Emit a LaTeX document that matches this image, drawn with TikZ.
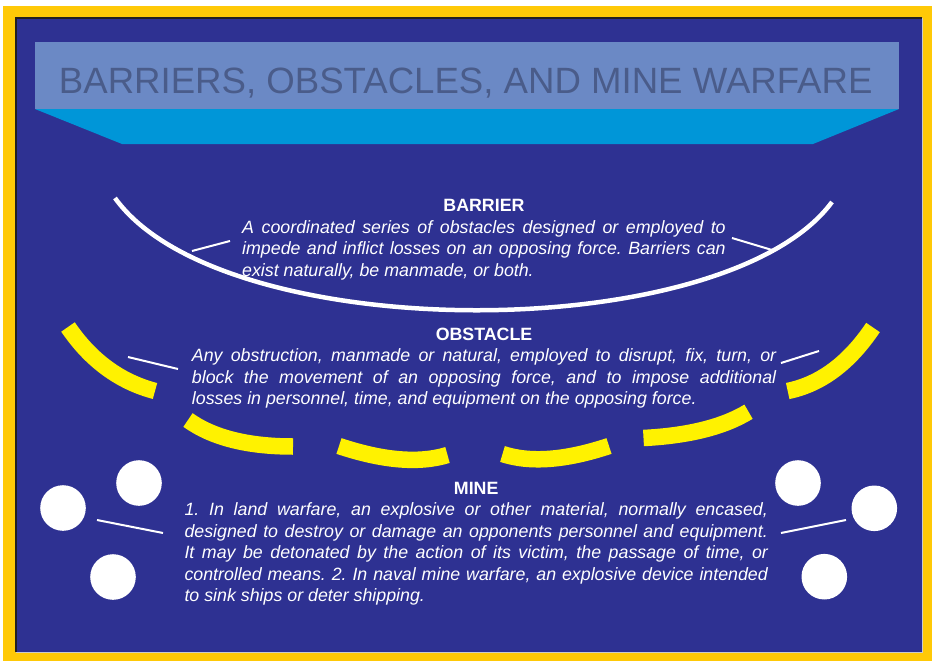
\documentclass[tikz,border=0pt]{standalone}
\usepackage{fontspec}
\setmainfont{Liberation Sans}
\usepackage{tikz}

\definecolor{frameyellow}{HTML}{FFC907}
\definecolor{panelblue}{HTML}{2E3192}
\definecolor{paneledge}{HTML}{231F20}
\definecolor{bandblue}{HTML}{6B89C5}
\definecolor{bandcyan}{HTML}{0096D8}
\definecolor{titlegray}{HTML}{4A5C8A}
\definecolor{dashyellow}{HTML}{FFF200}

\setlength{\parindent}{0pt}
\frenchspacing
\hyphenpenalty=10000
\exhyphenpenalty=10000

\begin{document}
\begin{tikzpicture}[x=1pt,y=-1pt,
  defn/.style={anchor=north west, inner sep=0pt, text=white, align=justify,
    font=\fontsize{17.8}{21.5}\selectfont\itshape\frenchspacing},
  pointer/.style={white, line width=2pt},
  minedot/.style={circle, fill=white, inner sep=0pt, minimum size=45.6pt},
  barrierline/.style={white, line width=4.5pt},
  obstacleline/.style={dashyellow, line width=16.5pt}]
\useasboundingbox (0,0) rectangle (932,661);

% frame and panel
\fill[frameyellow] (3,6) rectangle (932,661);
\fill[panelblue] (15,17) rectangle (922,652);
\draw[paneledge, line width=2.5pt] (16,652) -- (16,18) -- (922,18);
\draw[gray!40, line width=1pt] (922,18) -- (922,652) -- (16,652);

% title band
\fill[bandblue] (35,42) rectangle (899,109);
\fill[bandcyan] (35,109) -- (899,109) -- (813,144) -- (122,144) -- cycle;
\node[font=\fontsize{36.6}{40}\selectfont, text=titlegray, anchor=base, inner sep=0pt]
  (title) at (465.7,93) {BARRIERS, OBSTACLES, AND MINE WARFARE};

% barrier
\draw[barrierline] (115,198) .. controls (222,347) and (725,347) .. (832,202);
\node[defn, text width=483.5pt] (barrier) at (242,196.6)
  {{\centering\upshape\bfseries\strut BARRIER\par}
   A coordinated series of obstacles designed or employed to\linebreak
   impede and inflict losses on an opposing force. Barriers can\linebreak
   exist naturally, be manmade, or both.};

% obstacle
\draw[obstacleline] (68,327) .. controls (90.7,360.3) and (119.7,381.7) .. (155,391);
\draw[obstacleline] (188,420) .. controls (212.7,437.7) and (247.7,446.5) .. (293,446.5);
\draw[obstacleline] (339,446) .. controls (383,460.7) and (419.2,463.7) .. (447.5,455);
\draw[obstacleline] (502.5,454) .. controls (530.2,463.1) and (565.7,460.4) .. (609,446);
\draw[obstacleline] (643.5,438) .. controls (688.5,435.7) and (723.5,427) .. (748.5,411.7);
\draw[obstacleline] (787.7,391) .. controls (820.6,384.3) and (849,363.2) .. (873,327.5);
\node[defn, text width=584.3pt] (obstacle) at (191.7,324.95)
  {{\centering\upshape\bfseries\strut OBSTACLE\par}
   Any obstruction, manmade or natural, employed to disrupt, fix, turn, or\linebreak
   block the movement of an opposing force, and to impose additional\linebreak
   losses in personnel, time, and equipment on the opposing force.};

% mine
\node[minedot] (mineA) at (139,483) {};
\node[minedot] (mineB) at (63,508) {};
\node[minedot] (mineC) at (113,577) {};
\node[minedot] (mineD) at (798,483) {};
\node[minedot] (mineE) at (874.3,508.3) {};
\node[minedot] (mineF) at (824.3,576.7) {};
\node[defn, text width=583.4pt] (mine) at (184.3,478.95)
  {{\centering\upshape\bfseries\strut MINE\par}
   1. In land warfare, an explosive or other material, normally encased,\linebreak
   designed to destroy or damage an opponents personnel and equipment.\linebreak
   It may be detonated by the action of its victim, the passage of time, or\linebreak
   controlled means. 2. In naval mine warfare, an explosive device intended\linebreak
   to sink ships or deter shipping.};

% pointers
\coordinate (barrierL1) at (192,251);
\coordinate (barrierL2) at (230,241);
\coordinate (barrierR1) at (732,238);
\coordinate (barrierR2) at (772,250);
\coordinate (obstacleL1) at (128,357);
\coordinate (obstacleL2) at (178,369);
\coordinate (obstacleR1) at (781,363);
\coordinate (obstacleR2) at (819,351);
\coordinate (mineL1) at (97,520);
\coordinate (mineL2) at (163,533);
\coordinate (mineR1) at (781,533);
\coordinate (mineR2) at (846,520);
\draw[pointer] (barrierL1) -- (barrierL2);
\draw[pointer] (barrierR1) -- (barrierR2);
\draw[pointer] (obstacleL1) -- (obstacleL2);
\draw[pointer] (obstacleR1) -- (obstacleR2);
\draw[pointer] (mineL1) -- (mineL2);
\draw[pointer] (mineR1) -- (mineR2);
\end{tikzpicture}
\end{document}
